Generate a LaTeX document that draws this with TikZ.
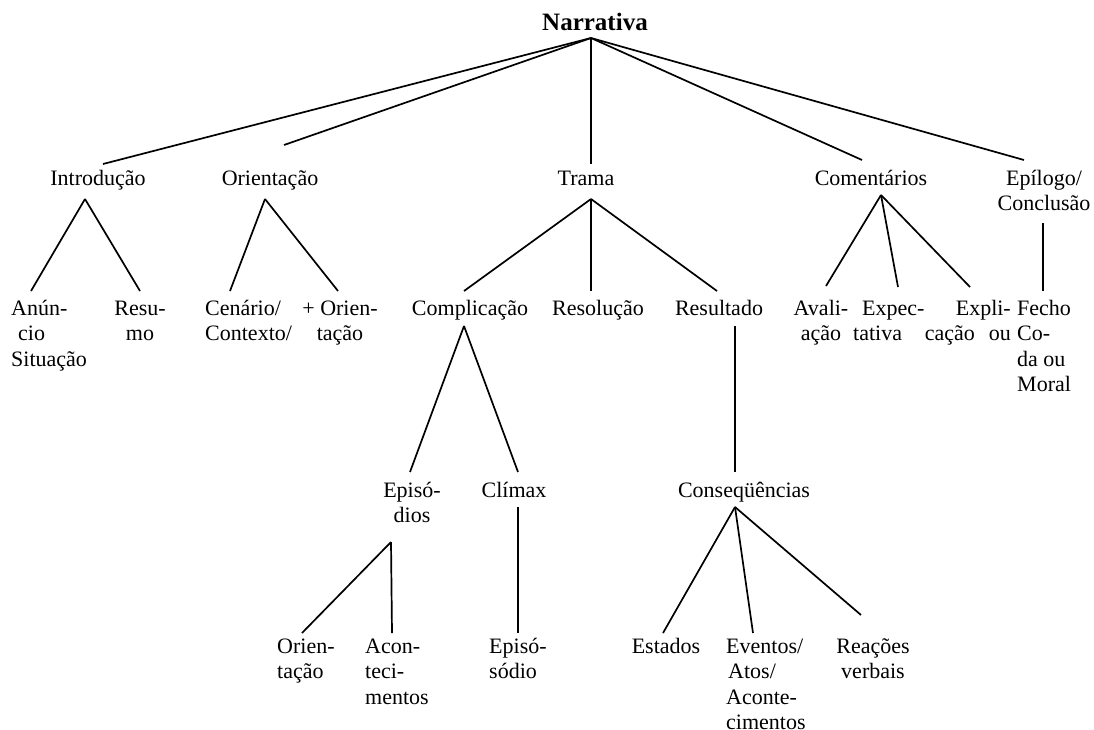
\documentclass[tikz,border=0pt]{standalone}
\usepackage{fontspec}
\setmainfont{Liberation Serif}
% multi-line labels whose baseline is the first line
\newcommand\stackL[1]{\begin{tabular}[t]{@{}l@{}}#1\end{tabular}}
\newcommand\stackC[1]{\begin{tabular}[t]{@{}c@{}}#1\end{tabular}}
\newcommand\stackR[1]{\begin{tabular}[t]{@{}r@{}}#1\end{tabular}}
\begin{document}
\begin{tikzpicture}[x=1pt,y=-1pt,
  lbl/.style={inner sep=0pt,font=\fontsize{22}{25.5}\selectfont},
  link/.style={line width=1.7pt}]
\useasboundingbox (0,0) rectangle (1094,729);

% ---- labels ----
\node[lbl,anchor=base] (narr) at (595,30) {\fontsize{25}{30}\selectfont\bfseries Narrativa};

\node[lbl,anchor=base] (intro)  at (98,185)  {Introdução};
\node[lbl,anchor=base] (orient) at (270,185) {Orientação};
\node[lbl,anchor=base] (trama)  at (586,185) {Trama};
\node[lbl,anchor=base] (coment) at (871,185) {Comentários};
\node[lbl,anchor=base] (epil) at (1044,185) {\stackC{Epílogo/\\Conclusão}};

\node[lbl,anchor=base west] (anun) at (11,315) {\stackL{Anún-\\\hspace*{7pt}cio\\Situação}};
\node[lbl,anchor=base] (resumo) at (140,315) {\stackC{Resu-\\mo}};
\node[lbl,anchor=base west] (cenario) at (205,315) {\stackL{Cenário/\\Contexto/}};
\node[lbl,anchor=base] (orient2) at (340,315) {\stackC{+ Orien-\\tação}};
\node[lbl,anchor=base] (compl)  at (470,315) {Complicação};
\node[lbl,anchor=base] (resol)  at (598,315) {Resolução};
\node[lbl,anchor=base] (result) at (719,315) {Resultado};
\node[lbl,anchor=base] (avali) at (821,315) {\stackC{Avali-\\ação}};
\node[lbl,anchor=base west] (expec) at (853,315) {\stackL{\hspace*{9pt}Expec-\\tativa}};
\node[lbl,anchor=base east] (expli) at (1011,315) {\stackR{Expli-\\cação\hspace{14pt}ou}};
\node[lbl,anchor=base west] (fecho) at (1017,315) {\stackL{Fecho\\Co-\\da ou\\Moral}};

\node[lbl,anchor=base] (epis) at (412,497) {\stackC{Episó-\\dios}};
\node[lbl,anchor=base] (climax) at (514,497) {Clímax};
\node[lbl,anchor=base] (conseq) at (744,497) {Conseqüências};

\node[lbl,anchor=base west] (orient3) at (277,653) {\stackL{Orien-\\tação}};
\node[lbl,anchor=base west] (acont) at (365,653) {\stackL{Acon-\\teci-\\mentos}};
\node[lbl,anchor=base west] (episod) at (489,653) {\stackL{Episó-\\sódio}};
\node[lbl,anchor=base] (estados) at (666,653) {Estados};
\node[lbl,anchor=base west] (eventos) at (726,653) {\stackL{Eventos/\\\hspace*{2pt}Atos/\\Aconte-\\cimentos}};
\node[lbl,anchor=base] (reacoes) at (873,653) {\stackC{Reações\\verbais}};

% ---- branch points below each parent ----
\coordinate (narr-b)   at (591,38);
\coordinate (intro-b)  at (85,199);
\coordinate (orient-b) at (265,199);
\coordinate (trama-b)  at (591,199);
\coordinate (coment-b) at (881,195);
\coordinate (epil-b)   at (1043,223);
\coordinate (compl-b)  at (464,326);
\coordinate (result-b) at (735,326);
\coordinate (climax-b) at (518,507);
\coordinate (epis-b)   at (391,542);
\coordinate (conseq-b) at (735,507);

% ---- attachment points above each child ----
\coordinate (intro-t)   at (103,164);
\coordinate (orient-t)  at (284,145);
\coordinate (trama-t)   at (591,164);
\coordinate (coment-t)  at (862,160);
\coordinate (epil-t)    at (1024,160);
\coordinate (anun-t)    at (31,291);
\coordinate (resumo-t)  at (140,291);
\coordinate (cenario-t) at (230,291);
\coordinate (orient2-t) at (338,291);
\coordinate (compl-t)   at (464,291);
\coordinate (resol-t)   at (591,291);
\coordinate (result-t)  at (717,291);
\coordinate (avali-t)   at (826,286);
\coordinate (expec-t)   at (898,287);
\coordinate (expli-t)   at (970,287);
\coordinate (fecho-t)   at (1043,291);
\coordinate (epis-t)    at (410,472);
\coordinate (climax-t)  at (518,472);
\coordinate (conseq-t)  at (735,472);
\coordinate (orient3-t) at (302,633);
\coordinate (acont-t)   at (392,633);
\coordinate (episod-t)  at (518,633);
\coordinate (estados-t) at (663,633);
\coordinate (eventos-t) at (753,633);
\coordinate (reacoes-t) at (861,615);

% ---- tree edges ----
\foreach \p/\c in {narr/intro,narr/orient,narr/trama,narr/coment,narr/epil,
                   intro/anun,intro/resumo,orient/cenario,orient/orient2,
                   trama/compl,trama/resol,trama/result,
                   coment/avali,coment/expec,coment/expli,epil/fecho,
                   compl/epis,compl/climax,result/conseq,
                   epis/orient3,epis/acont,climax/episod,
                   conseq/estados,conseq/eventos,conseq/reacoes}
  \draw[link] (\p-b) -- (\c-t);
\end{tikzpicture}
\end{document}
